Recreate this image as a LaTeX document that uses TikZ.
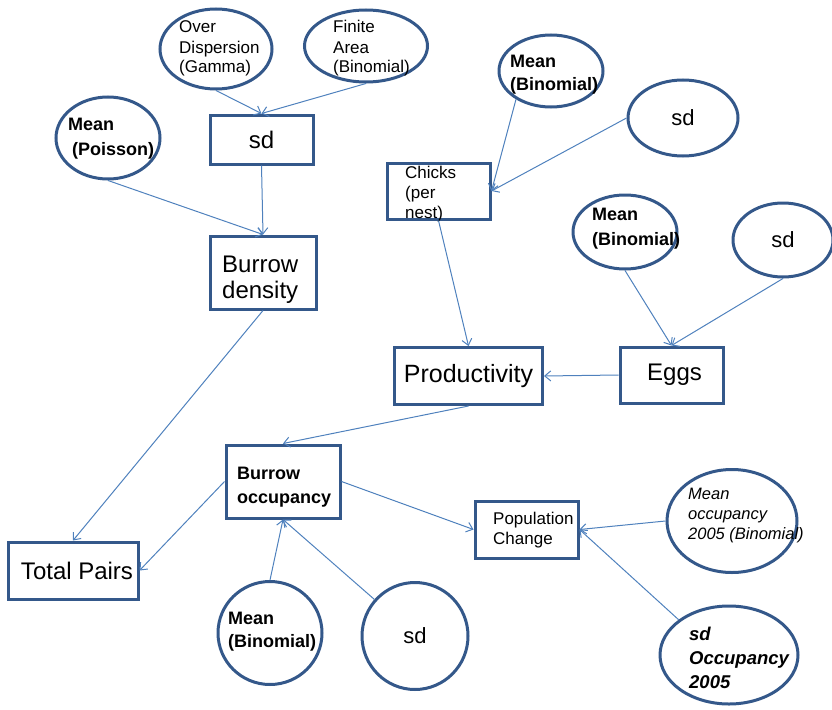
\documentclass[tikz,border=0pt]{standalone}
\usepackage{fontspec}
\setmainfont{Liberation Sans}
\usetikzlibrary{shapes.geometric,arrows.meta}
\definecolor{bord}{RGB}{52,88,138}
\definecolor{conn}{RGB}{79,129,189}
\tikzset{
  boxnode/.style={draw=bord, line width=3pt, rectangle, inner sep=0pt},
  ellnode/.style={draw=bord, line width=3pt, ellipse, inner sep=0pt},
  conline/.style={draw=conn, line width=1pt, -{Straight Barb[length=6pt,width=10pt]}},
  txt/.style={inner sep=0pt, align=left, anchor=base west, text=black},
}
\newcommand{\fs}[2]{\fontsize{#1}{#2}\selectfont}
\begin{document}
\begin{tikzpicture}[x=1pt,y=-1pt]
\useasboundingbox (0,0) rectangle (832,709);
% boxes
\node[boxnode, minimum width=103, minimum height=49, font=\fs{24}{28}] (sdbox) at (261.5,139.5) {sd};
\node[boxnode, minimum width=106, minimum height=73] (density) at (263,272.5) {};
\node[boxnode, minimum width=103, minimum height=56] (chicks) at (438.5,191) {};
\node[boxnode, minimum width=148, minimum height=57, font=\fs{25}{29}] (prod) at (468.5,376) {Productivity};
\node[boxnode, minimum width=103, minimum height=56, font=\fs{24}{28}] (eggs) at (671.5,375) {\hspace{6pt}Eggs};
\node[boxnode, minimum width=114, minimum height=73] (occ) at (283,481.5) {};
\node[boxnode, minimum width=130, minimum height=57, font=\fs{24}{28}] (total) at (73,570.5) {\hspace{8pt}Total Pairs};
\node[boxnode, minimum width=103, minimum height=57] (pop) at (526.5,529.5) {};
% ellipses
\node[ellnode, minimum width=112, minimum height=80] (od) at (216,49) {};
\node[ellnode, minimum width=123, minimum height=72] (fa) at (366,46) {};
\node[ellnode, minimum width=104, minimum height=82] (mp) at (108,138) {};
\node[ellnode, minimum width=104, minimum height=72] (mbt) at (551,71) {};
\node[ellnode, minimum width=110, minimum height=76, font=\fs{22}{26}] (sdt) at (683,118) {sd};
\node[ellnode, minimum width=104, minimum height=74] (mbm) at (625,232) {};
\node[ellnode, minimum width=100, minimum height=74, font=\fs{22}{26}] (sdr) at (783,240) {sd};
\node[ellnode, minimum width=104, minimum height=103] (mbb) at (270,633) {};
\node[ellnode, minimum width=106, minimum height=107, font=\fs{22}{26}] (sdb) at (415,636) {\raisebox{-4pt}{sd}};
\node[ellnode, minimum width=130, minimum height=103] (mo) at (732,521) {};
\node[ellnode, minimum width=138, minimum height=98] (so) at (729,655) {};
% texts (anchored at the baseline of the last line)
\node[txt, font=\fs{17}{20}] (tod) at (179,73) {Over\\Dispersion\\(Gamma)};
\node[txt, font=\fs{17}{20}] (tfa) at (333,73) {Finite\\Area\\(Binomial)};
\node[txt, font=\fs{18}{25}\bfseries] (tmp) at (68,155) {Mean\\\hspace{4pt}(Poisson)};
\node[txt, font=\fs{17}{20}] (tch) at (405,218) {Chicks\\(per\\nest)};
\node[txt, font=\fs{18}{23}\bfseries] (tmbt) at (510,90) {Mean\\(Binomial)};
\node[txt, font=\fs{18}{25}\bfseries] (tmbm) at (592,245) {Mean\\(Binomial)};
\node[txt, font=\fs{24}{26}] (tden) at (222,298) {Burrow\\density};
\node[txt, font=\fs{18}{24}\bfseries] (tocc) at (237,503) {Burrow\\occupancy};
\node[txt, font=\fs{18}{23}\bfseries] (tmbb) at (228,647) {Mean\\(Binomial)};
\node[txt, font=\fs{17}{20}] (tpop) at (493,544) {Population\\Change};
\node[txt, font=\fs{16.5}{20}\itshape] (tmo) at (688,539) {Mean\\occupancy\\2005 (Binomial)};
\node[txt, font=\fs{18.5}{24}\bfseries\itshape] (tso) at (689,688) {sd\\Occupancy\\2005};
% connectors
\draw[conline] (od.south) -- (sdbox.north);
\draw[conline] (fa.south) -- (sdbox.north);
\draw[conline] (sdbox.south) -- (density.north);
\draw[conline] (mp.south) -- (density.north);
\draw[conline] (mbt.-141) -- (chicks.east);
\draw[conline] (sdt.west) -- (chicks.east);
\draw[conline] (chicks.south) -- (prod.north);
\draw[conline] (mbm.south) -- (eggs.north);
\draw[conline] (sdr.south) -- (eggs.north);
\draw[conline] (eggs.west) -- (prod.east);
\draw[conline] (prod.south) -- (occ.north);
\draw[conline] (density.south) -- (total.north);
\draw[conline] (occ.west) -- (total.east);
\draw[conline] (occ.east) -- (pop.west);
\draw[conline] (mo.west) -- (pop.east);
\draw[conline] (so.145) -- (pop.east);
\draw[conline] (mbb.north) -- (occ.south);
\draw[conline] (sdb.138) -- (occ.south);
\end{tikzpicture}
\end{document}
